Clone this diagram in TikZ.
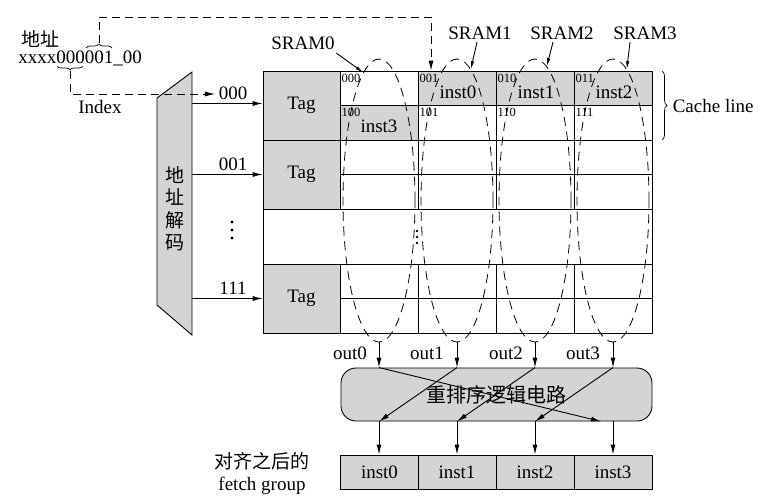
\documentclass[tikz,border=0pt]{standalone}
\usepackage{fontspec}
\setmainfont{Liberation Serif}
\newfontfamily\cjk{Noto Sans CJK SC}
\usetikzlibrary{arrows.meta,decorations.pathreplacing,calc,shapes.geometric}
\definecolor{gfill}{gray}{0.83}
\begin{document}
\begin{tikzpicture}[x=1pt,y=-1pt,
  font=\fontsize{19}{22}\selectfont,
  line width=0.9pt,
  arr/.style={-{Latex[length=10pt,width=5pt]}},
  sarr/.style={-{Latex[length=8pt,width=3.5pt]}},
  dsh/.style={dash pattern=on 8pt off 5pt, line width=0.8pt},
  edsh/.style={dash pattern=on 9pt off 6pt, line width=0.8pt},
  cell/.style={draw, minimum width=78pt, minimum height=34.5pt, inner sep=0pt},
  tagbox/.style={draw, fill=gfill, minimum width=77pt, minimum height=69pt, inner sep=0pt},
  sram/.style={draw, edsh, ellipse, minimum width=72pt, minimum height=283pt, inner sep=0pt},
  small/.style={font=\fontsize{12.5}{13}\selectfont, inner sep=0pt, anchor=north west},
  instbox/.style={draw, fill=gfill, minimum width=78pt, minimum height=34pt, inner sep=0pt}
]
\useasboundingbox (0,0) rectangle (768,501);

% ---- address ----
\node (addrcn) at (40,39) {\cjk 地址};
\node[inner sep=0pt] (addr) at (80,58) {xxxx000001\_00};
\draw[decorate, decoration={brace, amplitude=4pt, mirror}, line width=0.7pt] (57,66) -- (83,66);
\coordinate (lbt) at (70,71);
\draw[decorate, decoration={brace, amplitude=4pt}, line width=0.7pt] (86,48) -- (112,48);
\coordinate (ubt) at (99,43);
\node (index) at (100,107) {Index};

% ---- decoder ----
\draw[fill=gfill] (157,98) coordinate (dtl) -- (192,72) coordinate (dtr) -- (192,335) coordinate (dbr) -- (157,305) coordinate (dbl) -- cycle;
\node[align=center, font=\cjk\fontsize{19}{22.5}\selectfont, inner sep=0pt] (dec) at (175,208.5) {地\\址\\解\\码};

% ---- tag column ----
\node[tagbox] (tag0) at (301.5,105.5) {Tag};
\node[tagbox] (tag1) at (301.5,174.5) {Tag};
\node[tagbox] (tag7) at (301.5,298.5) {Tag};

% ---- cells ----
\foreach \r/\y in {0/88.25,1/122.75,2/157.25,3/191.75,4/281.25,5/315.75}
  \foreach \c/\x in {0/379,1/457,2/535,3/613}
    \node[cell] (c\r\c) at (\x,\y) {};
\node[cell, fill=gfill] (c01) at (457,88.25) {};
\node[cell, fill=gfill] (c02) at (535,88.25) {};
\node[cell, fill=gfill] (c03) at (613,88.25) {};
\node[cell, fill=gfill] (c10) at (379,122.75) {};
\node[draw, minimum width=389pt, minimum height=55pt, inner sep=0pt] (dotsrow) at (457.5,236.5) {};

\node[small] at ($(c00.north west)+(1.5,3)$) {000};
\node[small] at ($(c01.north west)+(1.5,3)$) {001};
\node[small] at ($(c02.north west)+(1.5,3)$) {010};
\node[small] at ($(c03.north west)+(1.5,3)$) {011};
\node[small] at ($(c10.north west)+(1.5,3)$) {100};
\node[small] at ($(c11.north west)+(1.5,3)$) {101};
\node[small] at ($(c12.north west)+(1.5,3)$) {110};
\node[small] at ($(c13.north west)+(1.5,3)$) {111};
\node at ($(c01)+(1,4)$) {inst0};
\node at ($(c02)+(1,4)$) {inst1};
\node at ($(c03)+(1,4)$) {inst2};
\node at ($(c10)+(0,4)$) {inst3};

% ---- decoder outputs ----
\node (l000) at (233,93) {000};
\node (l001) at (233,164) {001};
\node (l111) at (233,288) {111};
\foreach \y in {222,230,238} \fill (232,\y) circle (1.6pt);
\foreach \y in {231,237,243} \fill (417,\y) circle (1.3pt);
\draw[arr] (tag0.west -| dtr) ++(0,-2) -- ($(tag0.west)+(0,-2)$);
\draw[arr] (tag1.west -| dtr) -- (tag1.west);
\draw[arr] (tag7.west -| dtr) -- (tag7.west);

% ---- dashed index paths ----
\draw[dsh, arr] (lbt) -- (lbt |- 0,94) -- (l000.west |- 0,94);
\coordinate (ua) at (99,17);
\coordinate (ub) at (431,17);
\draw[dsh, arr] (ubt) -- (ua) -- (ub) -- (ub |- c01.north);

% ---- SRAM ellipses ----
\node[sram] (e0) at (379,200.5) {};
\node[sram] (e1) at (457,200.5) {};
\node[sram] (e2) at (535,200.5) {};
\node[sram] (e3) at (613,200.5) {};
\node (s0) at (303,43) {SRAM0};
\node (s1) at (480,33) {SRAM1};
\node (s2) at (562,33) {SRAM2};
\node (s3) at (645,33) {SRAM3};
\draw[sarr] ($(s0.south east)+(-2,0)$) -- (e0.97);
\draw[sarr] ($(s1.south)+(-3,-1)$) -- (e1.84);
\draw[sarr] ($(s2.south)+(-9,-1)$) -- (e2.85);
\draw[sarr] ($(s3.south)+(-15,-1)$) -- (e3.84);

% ---- cache line brace ----
\draw[decorate, decoration={brace, amplitude=5pt}, line width=0.7pt] (662,71) -- (662,140);
\node[anchor=west] (cl) at (669,106) {Cache line};

% ---- reorder logic ----
\node[draw, fill=gfill, rounded corners=15pt, minimum width=311pt, minimum height=53pt, font=\cjk\fontsize{20}{22}\selectfont] (reorder) at (496.5,394.5) {重排序逻辑电路};
\foreach \i in {0,1,2,3} {
  \draw[arr] (e\i.south) -- (e\i.south |- reorder.north);
}
\node (o0) at (350,353) {out0};
\node (o1) at (427,353) {out1};
\node (o2) at (506,353) {out2};
\node (o3) at (583,353) {out3};
\draw[arr] (e0.south |- reorder.north) -- ($(e3.south |- reorder.south)+(-12,0)$);
\draw[arr] (e1.south |- reorder.north) -- (e0.south |- reorder.south);
\draw[arr] (e2.south |- reorder.north) -- (e1.south |- reorder.south);
\draw[arr] (e3.south |- reorder.north) -- (e2.south |- reorder.south);

% ---- aligned fetch group ----
\node[instbox] (i0) at (379.5,472) {inst0};
\node[instbox] (i1) at (457,472) {inst1};
\node[instbox] (i2) at (535,472) {inst2};
\node[instbox] (i3) at (613,472) {inst3};
\foreach \i in {0,1,2,3} {
  \draw[arr] (e\i.south |- reorder.south) -- (e\i.south |- i\i.north);
}
\node[align=center] (fg) at (262,474) {{\cjk\fontsize{19}{22}\selectfont 对齐之后的}\\fetch group};
\end{tikzpicture}
\end{document}
